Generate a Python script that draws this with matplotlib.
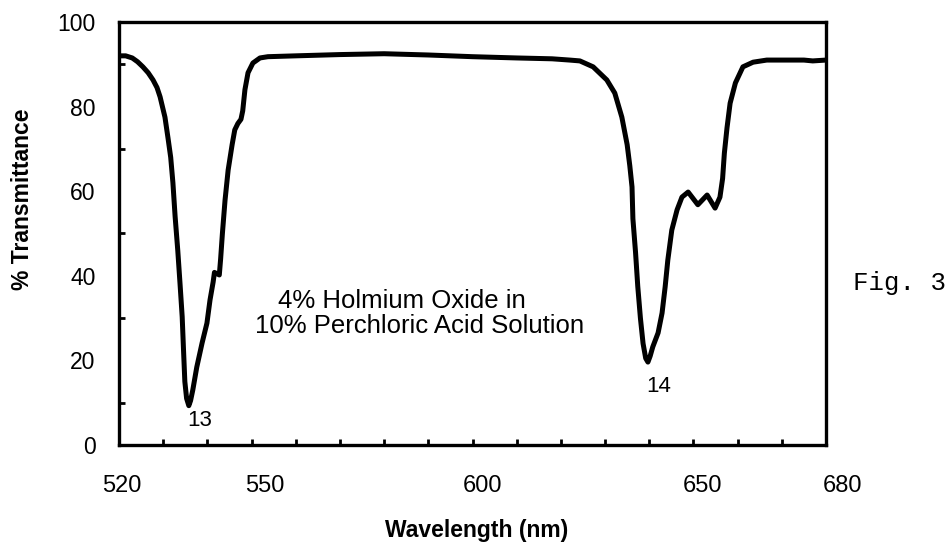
import matplotlib
matplotlib.use("Agg")
import matplotlib.pyplot as plt
from matplotlib import transforms
import numpy as np

# ---- data ----
wavelength = [520.0, 521.5, 523.0, 524.2, 525.4, 526.6, 527.7, 528.6, 529.3, 530.4,
              531.1, 531.7, 532.2, 532.7, 533.3, 533.8, 534.3, 534.6, 534.9, 535.3,
              535.8, 536.2, 536.7, 537.6, 538.8, 539.9, 540.6, 541.3, 541.6, 542.7,
              543.0, 543.4, 544.0, 544.7, 545.6, 546.2, 546.9, 547.6, 548.0, 548.5,
              549.2, 550.3, 551.9, 553.7, 560.0, 570.0, 580.0, 590.0, 600.0, 610.0,
              618.0, 622.0, 624.3, 627.3, 630.4, 632.2, 633.8, 635.0, 635.6, 636.1,
              636.3, 636.9, 637.4, 638.0, 638.6, 639.2, 639.7, 640.2, 640.8, 642.0,
              642.9, 643.6, 644.2, 645.1, 646.3, 647.4, 648.8, 651.0, 653.1, 654.9,
              656.0, 656.6, 657.0, 657.6, 658.3, 659.5, 661.2, 663.5, 666.6, 670.0,
              675.0, 677.0, 680.0]
transmittance = [92.0, 92.0, 91.5, 90.6, 89.4, 88.0, 86.3, 84.5, 82.3, 77.5,
                 72.5, 68.0, 62.0, 54.0, 46.0, 38.3, 30.3, 22.5, 15.0, 11.0,
                 9.3, 10.5, 13.0, 18.4, 24.1, 28.8, 34.3, 38.5, 40.8, 40.2,
                 44.0, 50.0, 57.9, 65.0, 71.0, 74.5, 76.0, 77.0, 79.0, 84.0,
                 88.0, 90.3, 91.5, 91.8, 92.0, 92.3, 92.5, 92.2, 91.8, 91.5,
                 91.3, 91.0, 90.8, 89.4, 86.3, 83.2, 77.5, 71.0, 66.0, 61.0,
                 53.5, 45.5, 37.5, 30.0, 24.0, 20.5, 19.6, 21.0, 23.2, 26.5,
                 31.2, 37.4, 43.7, 50.8, 55.6, 58.6, 59.8, 56.8, 59.1, 56.0,
                 58.6, 63.0, 69.0, 75.0, 80.8, 85.6, 89.4, 90.5, 91.0, 91.0,
                 91.0, 90.8, 91.0]

x_tick_labels = ["520", "550", "600", "650", "680"]
x_tick_values = [520, 550, 600, 650, 680]
x_label_shift_px = [3, 13, 10, 9, 16]   # labels in the reference sit right of true position
y_tick_values = [0, 20, 40, 60, 80, 100]

peak_labels = ["13", "14"]
peak_label_pos = [(538.3, 5.9), (642.2, 13.9)]

note_lines = ["4% Holmium Oxide in", "10% Perchloric Acid Solution"]
note_pos = [(556.0, 32.4), (550.8, 26.5)]

plt.rcParams['font.family'] = ['Liberation Sans', 'DejaVu Sans']

fig = plt.figure(figsize=(9.49, 5.46), dpi=100)
ax = fig.add_axes([119/949, 1-445/546, 707/949, 423/546])

ax.plot(wavelength, transmittance, color='black', lw=3.6, solid_joinstyle='round',
        solid_capstyle='round')

ax.set_xlim(520, 680)
ax.set_ylim(0, 100)

for s in ax.spines.values():
    s.set_linewidth(2.4)

ax.set_xticks(np.arange(530, 680, 10))
ax.set_xticklabels([])
ax.set_yticks(y_tick_values)
ax.set_yticks(np.arange(10, 100, 20), minor=True)
ax.tick_params(axis='x', direction='in', length=4, width=2, bottom=True, top=False)
ax.tick_params(axis='y', which='both', direction='in', length=4, width=2,
               left=True, right=False, labelsize=16.5, pad=17)
ax.tick_params(axis='y', which='major', length=0)
ax.set_yticks(np.arange(10, 100, 10), minor=True)

# x tick labels, drawn through the data x scale with a small pixel shift
blend = transforms.blended_transform_factory(ax.transData, ax.transAxes)
for lab, val, sh in zip(x_tick_labels, x_tick_values, x_label_shift_px):
    tr = transforms.offset_copy(blend, fig=fig, x=sh, y=0, units='dots')
    ax.text(val, -0.097, lab, transform=tr, ha='center', va='center',
            fontsize=17, clip_on=False)

ax.set_xlabel("Wavelength (nm)", fontsize=16.5, fontweight='bold', va='center')
ax.xaxis.set_label_coords(0.506, -0.201)
ax.set_ylabel("% Transmittance", fontsize=16.5, fontweight='bold', va='center')
ax.yaxis.set_label_coords(-0.137, 0.58)

for lab, (x, y) in zip(peak_labels, peak_label_pos):
    ax.text(x, y, lab, ha='center', va='center', fontsize=16)

for line, (x, y) in zip(note_lines, note_pos):
    ax.text(x, y, line, ha='left', va='baseline', fontsize=18.5)

fig.text(853/949, 1-290/546, "Fig. 3", family=['Liberation Mono', 'DejaVu Sans Mono'],
         fontsize=18.5, ha='left', va='baseline')

fig.savefig("out.png", dpi=100)
